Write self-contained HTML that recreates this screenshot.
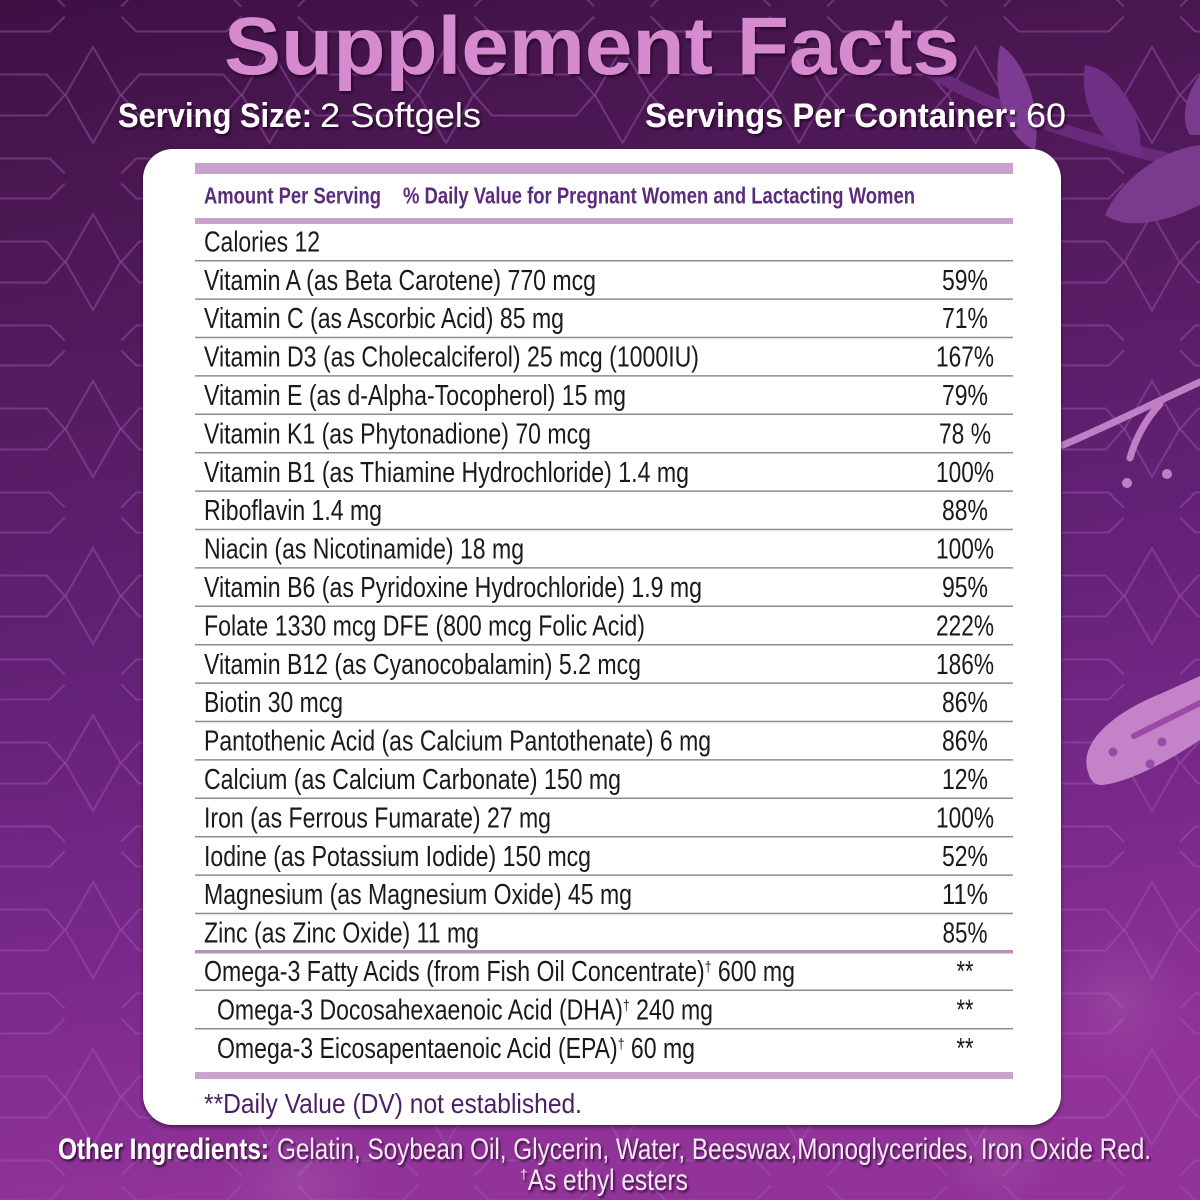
<!DOCTYPE html>
<html><head><meta charset="utf-8"><style>
html,body{margin:0;padding:0;background:#3d1044;}
svg{display:block;}
</style></head><body>
<svg width="1200" height="1200" viewBox="0 0 1200 1200" xmlns="http://www.w3.org/2000/svg">
<defs>
<linearGradient id="bg" x1="0" y1="0" x2="0.15" y2="1">
<stop offset="0" stop-color="#3d1044"/>
<stop offset="0.13" stop-color="#48164f"/>
<stop offset="0.35" stop-color="#561c62"/>
<stop offset="0.6" stop-color="#66227a"/>
<stop offset="0.85" stop-color="#7f2b8f"/>
<stop offset="1" stop-color="#923399"/>
</linearGradient>
<pattern id="pat" x="4.75" y="11.5" width="176.5" height="167" patternUnits="userSpaceOnUse">
<g fill="none" stroke="#a356b6" stroke-opacity="0.45" stroke-width="2">
<path d="M88.25,35.5 L115.75,83.5 L88.25,131.5 L60.75,83.5 Z"/>
<path d="M0,20 H45 L60,5"/>
<path d="M0,63 H42 L60,83.5 L42,104 H0"/>
<path d="M176.5,63 H134.5 L116.5,83.5 L134.5,104 H176.5"/>
<path d="M0,147 H45 L60,162"/>
<path d="M176.5,20 H131.5 L116.5,5"/>
<path d="M176.5,147 H131.5 L116.5,162"/>
</g>
</pattern>
<filter id="sh" x="-5%" y="-20%" width="110%" height="150%">
<feDropShadow dx="1.5" dy="2" stdDeviation="1.2" flood-color="#1a0520" flood-opacity="0.85"/>
</filter>
<filter id="cardsh" x="-5%" y="-5%" width="110%" height="110%">
<feDropShadow dx="0" dy="2" stdDeviation="2" flood-color="#1a0520" flood-opacity="0.6"/>
</filter>
<radialGradient id="bok" cx="0.5" cy="0.5" r="0.5">
<stop offset="0" stop-color="#ffffff" stop-opacity="0.08"/>
<stop offset="1" stop-color="#ffffff" stop-opacity="0"/>
</radialGradient>
</defs>

<!-- background -->
<rect x="0" y="0" width="1200" height="1200" fill="url(#bg)"/>
<rect x="0" y="0" width="1200" height="1200" fill="url(#pat)"/>
<circle cx="1120" cy="1000" r="70" fill="url(#bok)"/>
<circle cx="1000" cy="1150" r="60" fill="url(#bok)"/>
<circle cx="300" cy="1180" r="80" fill="url(#bok)"/>

<!-- top-right branches -->
<path d="M930,72 C980,100 1030,120 1090,138 C1130,150 1170,160 1200,166" fill="none" stroke="#6a2a7c" stroke-width="12" stroke-linecap="round"/>
<path d="M1000,45 C1025,60 1042,110 1035,150 C1010,140 990,100 1000,45 Z" fill="#7d3a92"/>
<path d="M1085,65 C1120,70 1145,120 1140,158 C1105,150 1078,110 1085,65 Z" fill="#6f2f84"/>
<path d="M1200,75 C1185,95 1180,120 1190,135 L1200,135 Z" fill="#7a3a8e"/>
<path d="M1105,215 C1120,180 1160,150 1200,145 L1200,205 C1170,220 1130,232 1105,215 Z" fill="#7a3a8e"/>

<!-- right mid branch -->
<path d="M1063,445 C1110,425 1160,400 1200,382" fill="none" stroke="#c07ec4" stroke-width="7" stroke-linecap="round"/>
<path d="M1160,404 C1145,420 1135,440 1130,458" fill="none" stroke="#c07ec4" stroke-width="7" stroke-linecap="round"/>
<circle cx="1127" cy="483" r="5" fill="#c07ec4"/>
<circle cx="1167" cy="474" r="5" fill="#c07ec4"/>

<!-- pink leaf -->
<path d="M1088,772 C1078,742 1115,712 1160,694 L1200,676 L1200,740 C1170,760 1130,782 1102,785 C1094,785 1090,780 1088,772 Z" fill="#c482c8"/>
<path d="M1134,736 L1200,703" stroke="#9a4aa6" stroke-width="6" stroke-linecap="round"/>
<circle cx="1113" cy="752" r="4.5" fill="#9a4aa6"/>
<circle cx="1150" cy="764" r="4.5" fill="#9a4aa6"/>
<circle cx="1162" cy="742" r="4.5" fill="#9a4aa6"/>

<!-- title -->
<text x="224" y="74" font-family="Liberation Sans, sans-serif" font-weight="bold" font-size="82" fill="#d68acf" textLength="736" lengthAdjust="spacingAndGlyphs" filter="url(#sh)">Supplement Facts</text>

<g font-family="Liberation Sans, sans-serif" font-size="34.5" fill="#ffffff" filter="url(#sh)">
<text x="118" y="127" font-weight="bold" textLength="194" lengthAdjust="spacingAndGlyphs">Serving Size:</text>
<text x="320" y="127" textLength="161" lengthAdjust="spacingAndGlyphs">2 Softgels</text>
<text x="645" y="127" font-weight="bold" textLength="373" lengthAdjust="spacingAndGlyphs">Servings Per Container:</text>
<text x="1026" y="127" textLength="40" lengthAdjust="spacingAndGlyphs">60</text>
</g>

<!-- card -->
<rect x="143" y="149" width="918" height="976" rx="30" ry="30" fill="#ffffff" filter="url(#cardsh)"/>

<!-- bars -->
<rect x="195" y="163" width="818" height="11" fill="#c9a3cb"/>
<rect x="195" y="218" width="818" height="6" fill="#c9a3cb"/>
<rect x="195" y="950" width="818" height="3.5" fill="#b890bc"/>
<rect x="195" y="1072" width="818" height="7" fill="#c9a3cb"/>

<g stroke="#8c8c8c" stroke-width="1.5">
<line x1="195" x2="1013" y1="260.7" y2="260.7"/>
<line x1="195" x2="1013" y1="299.1" y2="299.1"/>
<line x1="195" x2="1013" y1="337.5" y2="337.5"/>
<line x1="195" x2="1013" y1="375.9" y2="375.9"/>
<line x1="195" x2="1013" y1="414.3" y2="414.3"/>
<line x1="195" x2="1013" y1="452.7" y2="452.7"/>
<line x1="195" x2="1013" y1="491.1" y2="491.1"/>
<line x1="195" x2="1013" y1="529.5" y2="529.5"/>
<line x1="195" x2="1013" y1="567.9" y2="567.9"/>
<line x1="195" x2="1013" y1="606.3" y2="606.3"/>
<line x1="195" x2="1013" y1="644.7" y2="644.7"/>
<line x1="195" x2="1013" y1="683.1" y2="683.1"/>
<line x1="195" x2="1013" y1="721.5" y2="721.5"/>
<line x1="195" x2="1013" y1="759.9" y2="759.9"/>
<line x1="195" x2="1013" y1="798.3" y2="798.3"/>
<line x1="195" x2="1013" y1="836.7" y2="836.7"/>
<line x1="195" x2="1013" y1="875.1" y2="875.1"/>
<line x1="195" x2="1013" y1="913.5" y2="913.5"/>
<line x1="195" x2="1013" y1="990.3" y2="990.3"/>
<line x1="195" x2="1013" y1="1028.7" y2="1028.7"/>
</g>

<!-- header -->
<g font-family="Liberation Sans, sans-serif" font-weight="bold" font-size="23" fill="#5b2b7d">
<text x="204" y="203.5" textLength="177" lengthAdjust="spacingAndGlyphs">Amount Per Serving</text>
<text x="403" y="203.5" textLength="512" lengthAdjust="spacingAndGlyphs">% Daily Value for Pregnant Women and Lactacting Women</text>
</g>

<!-- rows -->
<g font-family="Liberation Sans, sans-serif" font-size="28.5" fill="#1a1a1a">
<text x="204" y="251.4" textLength="116" lengthAdjust="spacingAndGlyphs">Calories 12</text>
<text x="204" y="289.8" textLength="392" lengthAdjust="spacingAndGlyphs">Vitamin A (as Beta Carotene) 770 mcg</text>
<text x="204" y="328.2" textLength="360" lengthAdjust="spacingAndGlyphs">Vitamin C (as Ascorbic Acid) 85 mg</text>
<text x="204" y="366.6" textLength="495" lengthAdjust="spacingAndGlyphs">Vitamin D3 (as Cholecalciferol) 25 mcg (1000IU)</text>
<text x="204" y="405.0" textLength="422" lengthAdjust="spacingAndGlyphs">Vitamin E (as d-Alpha-Tocopherol) 15 mg</text>
<text x="204" y="443.4" textLength="387" lengthAdjust="spacingAndGlyphs">Vitamin K1 (as Phytonadione) 70 mcg</text>
<text x="204" y="481.8" textLength="485" lengthAdjust="spacingAndGlyphs">Vitamin B1 (as Thiamine Hydrochloride) 1.4 mg</text>
<text x="204" y="520.2" textLength="178" lengthAdjust="spacingAndGlyphs">Riboflavin 1.4 mg</text>
<text x="204" y="558.6" textLength="320" lengthAdjust="spacingAndGlyphs">Niacin (as Nicotinamide) 18 mg</text>
<text x="204" y="597.0" textLength="498" lengthAdjust="spacingAndGlyphs">Vitamin B6 (as Pyridoxine Hydrochloride) 1.9 mg</text>
<text x="204" y="635.4" textLength="441" lengthAdjust="spacingAndGlyphs">Folate 1330 mcg DFE (800 mcg Folic Acid)</text>
<text x="204" y="673.8" textLength="437" lengthAdjust="spacingAndGlyphs">Vitamin B12 (as Cyanocobalamin) 5.2 mcg</text>
<text x="204" y="712.2" textLength="139" lengthAdjust="spacingAndGlyphs">Biotin 30 mcg</text>
<text x="204" y="750.6" textLength="507" lengthAdjust="spacingAndGlyphs">Pantothenic Acid (as Calcium Pantothenate) 6 mg</text>
<text x="204" y="789.0" textLength="417" lengthAdjust="spacingAndGlyphs">Calcium (as Calcium Carbonate) 150 mg</text>
<text x="204" y="827.4" textLength="347" lengthAdjust="spacingAndGlyphs">Iron (as Ferrous Fumarate) 27 mg</text>
<text x="204" y="865.8" textLength="387" lengthAdjust="spacingAndGlyphs">Iodine (as Potassium Iodide) 150 mcg</text>
<text x="204" y="904.2" textLength="428" lengthAdjust="spacingAndGlyphs">Magnesium (as Magnesium Oxide) 45 mg</text>
<text x="204" y="942.6" textLength="275" lengthAdjust="spacingAndGlyphs">Zinc (as Zinc Oxide) 11 mg</text>
<text x="204" y="981.0" textLength="591" lengthAdjust="spacingAndGlyphs">Omega-3 Fatty Acids (from Fish Oil Concentrate)<tspan font-size="15" dy="-9">†</tspan><tspan dy="9"> 600 mg</tspan></text>
<text x="217" y="1019.4" textLength="496" lengthAdjust="spacingAndGlyphs">Omega-3 Docosahexaenoic Acid (DHA)<tspan font-size="15" dy="-9">†</tspan><tspan dy="9"> 240 mg</tspan></text>
<text x="217" y="1057.8" textLength="478" lengthAdjust="spacingAndGlyphs">Omega-3 Eicosapentaenoic Acid (EPA)<tspan font-size="15" dy="-9">†</tspan><tspan dy="9"> 60 mg</tspan></text>
</g>

<!-- percentages -->
<g font-family="Liberation Sans, sans-serif" font-size="28.5" fill="#1a1a1a" text-anchor="middle">
<text x="965" y="289.8" textLength="46" lengthAdjust="spacingAndGlyphs">59%</text>
<text x="965" y="328.2" textLength="46" lengthAdjust="spacingAndGlyphs">71%</text>
<text x="965" y="366.6" textLength="58" lengthAdjust="spacingAndGlyphs">167%</text>
<text x="965" y="405.0" textLength="46" lengthAdjust="spacingAndGlyphs">79%</text>
<text x="965" y="443.4" textLength="52" lengthAdjust="spacingAndGlyphs">78 %</text>
<text x="965" y="481.8" textLength="58" lengthAdjust="spacingAndGlyphs">100%</text>
<text x="965" y="520.2" textLength="46" lengthAdjust="spacingAndGlyphs">88%</text>
<text x="965" y="558.6" textLength="58" lengthAdjust="spacingAndGlyphs">100%</text>
<text x="965" y="597.0" textLength="46" lengthAdjust="spacingAndGlyphs">95%</text>
<text x="965" y="635.4" textLength="58" lengthAdjust="spacingAndGlyphs">222%</text>
<text x="965" y="673.8" textLength="58" lengthAdjust="spacingAndGlyphs">186%</text>
<text x="965" y="712.2" textLength="46" lengthAdjust="spacingAndGlyphs">86%</text>
<text x="965" y="750.6" textLength="46" lengthAdjust="spacingAndGlyphs">86%</text>
<text x="965" y="789.0" textLength="46" lengthAdjust="spacingAndGlyphs">12%</text>
<text x="965" y="827.4" textLength="58" lengthAdjust="spacingAndGlyphs">100%</text>
<text x="965" y="865.8" textLength="46" lengthAdjust="spacingAndGlyphs">52%</text>
<text x="965" y="904.2" textLength="46" lengthAdjust="spacingAndGlyphs">11%</text>
<text x="965" y="942.6" textLength="45" lengthAdjust="spacingAndGlyphs">85%</text>
<text x="965" y="981.0" textLength="17" lengthAdjust="spacingAndGlyphs">**</text>
<text x="965" y="1019.4" textLength="17" lengthAdjust="spacingAndGlyphs">**</text>
<text x="965" y="1057.8" textLength="17" lengthAdjust="spacingAndGlyphs">**</text>
</g>

<text x="204" y="1113" font-family="Liberation Sans, sans-serif" font-size="28" fill="#4b1f63" textLength="378" lengthAdjust="spacingAndGlyphs">**Daily Value (DV) not established.</text>

<!-- footer -->
<g font-family="Liberation Sans, sans-serif" font-size="29.5" filter="url(#sh)">
<text x="58" y="1159" font-weight="bold" fill="#ffffff" textLength="211" lengthAdjust="spacingAndGlyphs">Other Ingredients:</text>
<text x="277" y="1159" fill="#f4e4f4" textLength="874" lengthAdjust="spacingAndGlyphs">Gelatin, Soybean Oil, Glycerin, Water, Beeswax,Monoglycerides, Iron Oxide Red.</text>
<text x="520" y="1190" fill="#f4e4f4"><tspan font-size="14" dy="-11">†</tspan><tspan dy="11" textLength="160" lengthAdjust="spacingAndGlyphs">As ethyl esters</tspan></text>
</g>
</svg>
</body></html>
